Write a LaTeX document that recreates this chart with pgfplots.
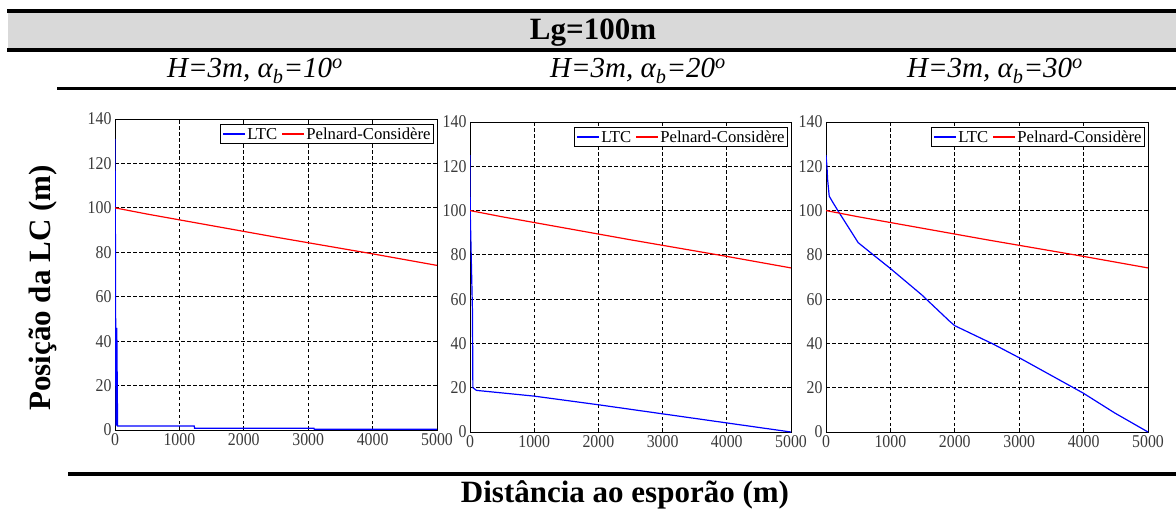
\documentclass[border=0pt]{standalone}
\usepackage{fontspec}
\setmainfont{Liberation Serif}
\newfontfamily\tickfont[FakeStretch=0.88]{Liberation Serif}
\usepackage{pgfplots}
\pgfplotsset{compat=1.18}
\definecolor{band}{HTML}{D9D9D9}
\definecolor{ticktxt}{HTML}{3A3A3A}
\newcommand{\legline}[1]{{\color{#1}\rule[0.3em]{22pt}{1.2pt}}}
\newcommand{\legbox}{\legline{blue}\hspace{2pt}LTC\hspace{5pt}\legline{red}\hspace{2pt}Pelnard-Considère}
\tikzset{
  legnode/.style={draw=black, line width=0.8pt, fill=white, anchor=north east,
    xshift=-3pt, yshift=-5pt, inner xsep=3pt, inner ysep=3.5pt,
    font={\fontsize{16.7}{18}\selectfont}},
}
\pgfplotsset{
  panel/.style={
    scale only axis,
    xmin=0, xmax=5000, ymin=0, ymax=140,
    xtick={0,1000,...,5000}, ytick={0,20,...,140},
    grid=major,
    major grid style={black, dash pattern=on 3.5pt off 2.5pt, line width=0.8pt},
    axis line style={black, line width=0.8pt},
    tick style={black, line width=0.8pt},
    major tick length=4pt,
    tick label style={font={\tickfont\fontsize{18}{20}\selectfont}, text=ticktxt},
    /pgf/number format/assume math mode=true,
    /pgf/number format/1000 sep={},
    scaled ticks=false,
  },
}
\pgfplotstableread{
x y
0 100
500 97.2
1000 94.6
1500 92.0
2000 89.4
2500 86.8
3000 84.3
3500 81.8
4000 79.3
4500 76.7
5000 74.1
}\pcdata
\begin{document}
\begin{tikzpicture}
\path[use as bounding box] (0,0) rectangle (1176pt,-513pt);

\begin{axis}[panel, at={(115pt,-430pt)}, anchor=south west, width=322pt, height=311pt]
\addplot[color=blue, line width=1.2pt] coordinates {(0,131) (5,100) (15,2) (28,46) (40,1.8) (1230,1.8) (1235,0.8) (3090,0.8) (3095,0.3) (5000,0.3)};
\addplot[color=red, line width=1.2pt] table[x=x,y=y] {\pcdata};
\node[legnode] at (rel axis cs:1,1) {\legbox};
\end{axis}

\begin{axis}[panel, at={(470pt,-432pt)}, anchor=south west, width=321pt, height=310pt]
\addplot[color=blue, line width=1.2pt] coordinates {(0,125) (3,100) (38,55) (45,20) (100,18.8) (1000,16.2) (2000,12.3) (3000,8.2) (4000,4.1) (5000,0)};
\addplot[color=red, line width=1.2pt] table[x=x,y=y] {\pcdata};
\node[legnode] at (rel axis cs:1,1) {\legbox};
\end{axis}

\begin{axis}[panel, at={(826pt,-432pt)}, anchor=south west, width=322pt, height=310pt]
\addplot[color=blue, line width=1.2pt] coordinates {(0,125) (15,120) (25,114) (50,106.5) (100,104) (190,99.7) (500,85.5) (734,80) (993,74) (1484,62) (1920,50) (2000,48) (2596,39.7) (3009,33.4) (3992,17.6) (4483,8.6) (5000,0)};
\addplot[color=red, line width=1.2pt] table[x=x,y=y] {\pcdata};
\node[legnode] at (rel axis cs:1,1) {\legbox};
\end{axis}

\fill[band] (8pt,-11pt) rectangle (1176pt,-49pt);
\draw[line width=3.3pt] (7pt,-11pt) -- (1176pt,-11pt);
\draw[line width=3.3pt] (7pt,-50pt) -- (1176pt,-50pt);
\node[anchor=base, font={\fontsize{31}{33}\selectfont\bfseries}, inner sep=0pt] at (593pt,-40pt) {Lg=100m};
\node[anchor=base, font={\fontsize{29}{32}\selectfont\itshape}, inner sep=0pt] at (255pt,-78pt) {H=3m, α\textsubscript{b}=10\textsuperscript{o}};
\node[anchor=base, font={\fontsize{29}{32}\selectfont\itshape}, inner sep=0pt] at (638pt,-78pt) {H=3m, α\textsubscript{b}=20\textsuperscript{o}};
\node[anchor=base, font={\fontsize{29}{32}\selectfont\itshape}, inner sep=0pt] at (995pt,-78pt) {H=3m, α\textsubscript{b}=30\textsuperscript{o}};
\draw[line width=2.7pt] (57pt,-88.7pt) -- (1176pt,-88.7pt);
\draw[line width=3.3pt] (68pt,-474pt) -- (1176pt,-474pt);
\node[anchor=base, font={\fontsize{31}{33}\selectfont\bfseries}, inner sep=0pt] at (625pt,-502pt) {Distância ao esporão (m)};
\node[anchor=base, rotate=90, font={\fontsize{31}{33}\selectfont\bfseries}, inner sep=0pt] at (50pt,-288pt) {Posição da LC (m)};
\end{tikzpicture}
\end{document}
